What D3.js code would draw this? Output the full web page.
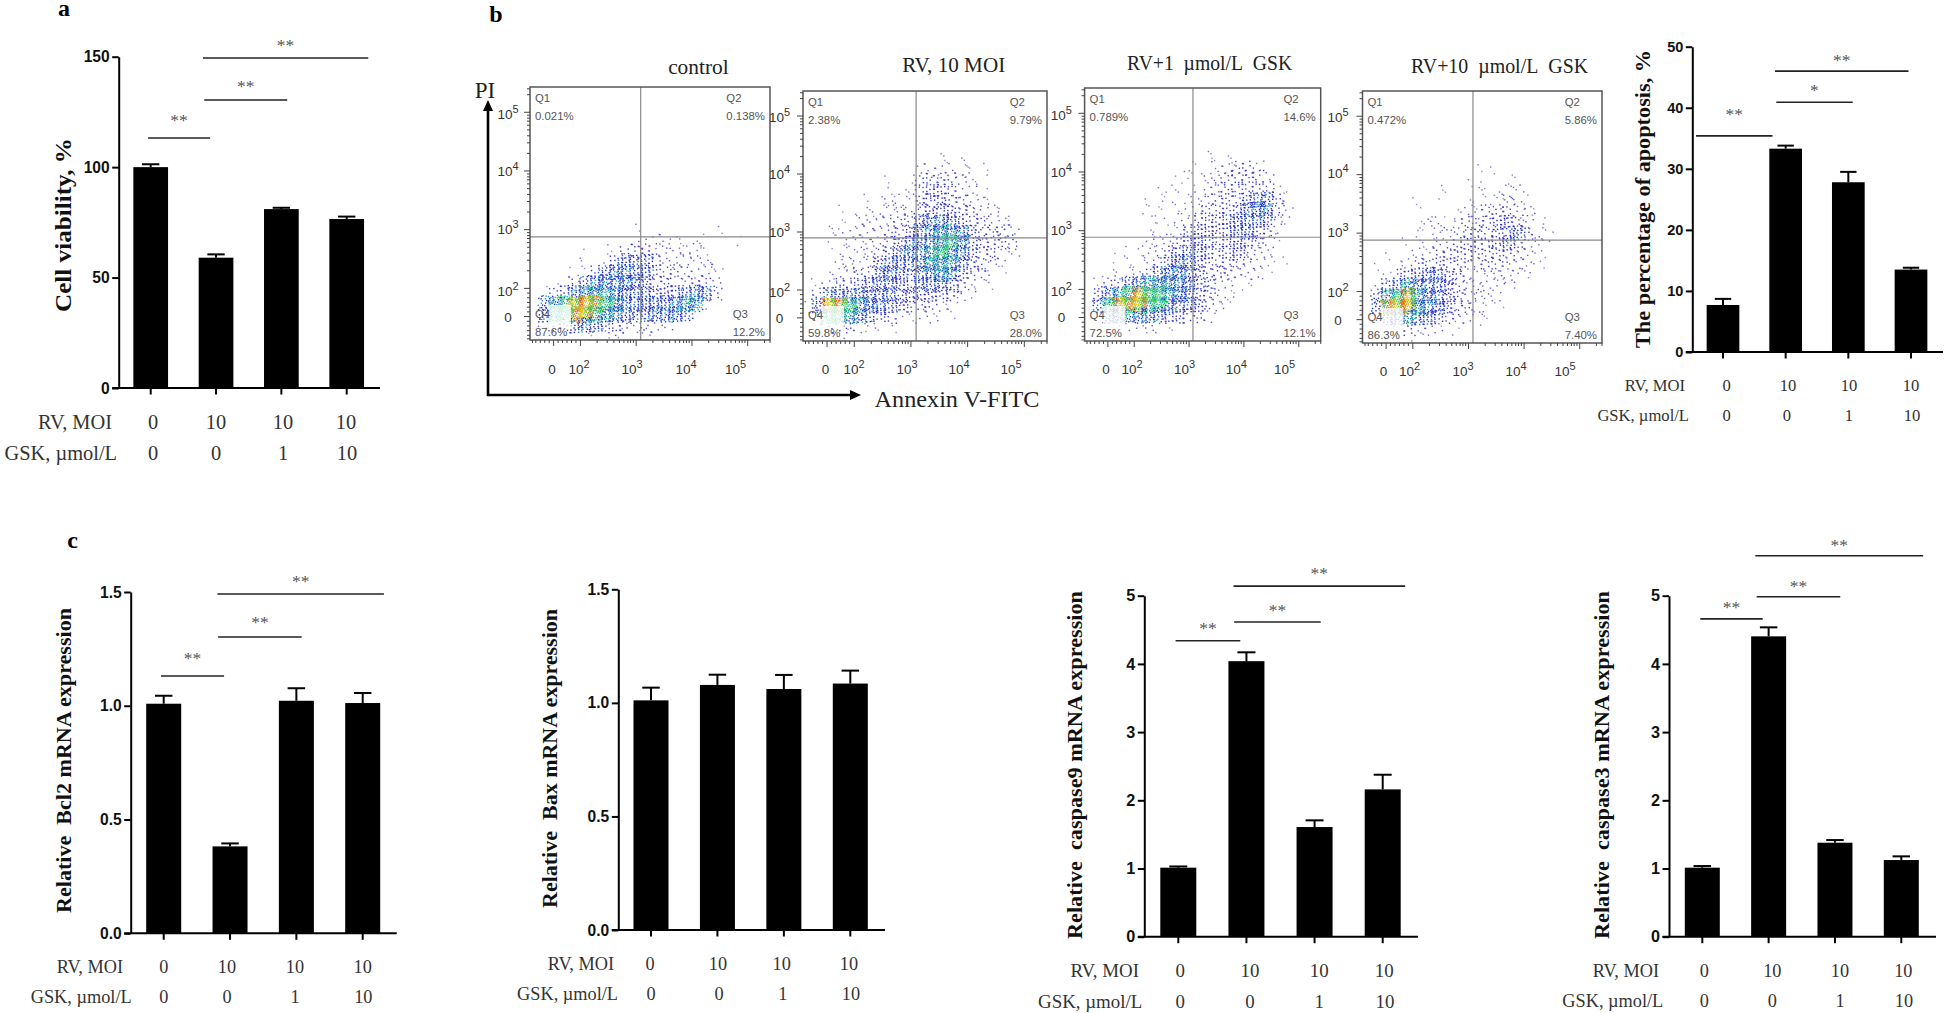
<!DOCTYPE html>
<html lang="en">
    <head>
        <meta charset="UTF-8" />
        <title>RV apoptosis figure</title>
        <script src="https://cdn.jsdelivr.net/npm/d3@7"></script>
        <style>
            body {
                margin: 0;
                background: #fff;
            }
            svg {
                display: block;
            }
        </style>
    </head>
    <body>
        <div id="container"></div>
        <script>
            // condition table under every bar chart
            const rvMoi = ['0', '10', '10', '10']
            const gskDose = ['0', '0', '1', '10']

            // bar heights and the top of each error bar
            const viabilityValues = [100, 59, 81, 76.5]
            const viabilityTops = [101.3, 60.5, 81.6, 77.6]
            const apoptosisValues = [7.7, 33.3, 27.8, 13.5]
            const apoptosisTops = [8.7, 33.8, 29.5, 13.8]
            const bcl2Values = [1.009, 0.382, 1.022, 1.012]
            const bcl2Tops = [1.044, 0.395, 1.077, 1.056]
            const baxValues = [1.011, 1.079, 1.061, 1.085]
            const baxTops = [1.067, 1.124, 1.123, 1.142]
            const casp9Values = [1.012, 4.04, 1.608, 2.16]
            const casp9Tops = [1.03, 4.17, 1.706, 2.375]
            const casp3Values = [1.012, 4.404, 1.378, 1.124]
            const casp3Tops = [1.036, 4.536, 1.417, 1.178]

            // significance bars: from bar, to bar, level on the y axis, label
            const viabilitySig = [[-0.04, 0.91, 113.2, '**'], [0.82, 2.09, 130.4, '**'], [0.8, 3.33, 149.4, '**']]
            const apoptosisSig = [[-0.43, 0.79, 35.4, '**'], [0.85, 2.07, 40.9, '*'], [0.83, 2.96, 46, '**']]
            const bcl2Sig = [[-0.04, 0.91, 1.131, '**'], [0.82, 2.08, 1.302, '**'], [0.81, 3.32, 1.491, '**']]
            const casp9Sig = [[-0.04, 0.91, 4.34, '**'], [0.82, 2.09, 4.615, '**'], [0.81, 3.33, 5.14, '**']]
            const casp3Sig = [[-0.03, 0.91, 4.66, '**'], [0.82, 2.08, 4.985, '**'], [0.8, 3.33, 5.586, '**']]

            // flow cytometry: dot density per grid cell, 0 empty to 9 hottest, 24 rows from the top.
            // estimated by eye, short rows are empty on the right
            const controlDensity = [
                '', '', '', '', '', '', '', '', '', '', '', '', '',
                '00000000001000000001',
                '000000000002221111001',
                '000001010333222221',
                '0000100145553222221',
                '0000113566553332222',
                '0001356666543322332',
                '0134677765554445663',
                '067899987655556771',
                '0588998765556665',
                '02335654332322',
                '000001112112',
            ]
            const rv10Density = [
                '', '', '', '', '', '',
                '00000000000001111',
                '000000000002222111',
                '000000001003333221',
                '000000001113433221',
                '0000001122233433221',
                '00010112222344433221',
                '000112222335565433221',
                '001122223345677643332',
                '0011122234566787433 33',
                '000122233566787643322',
                '00022224555677753321',
                '00122335653567643211',
                '0123344554455543211',
                '13556555544444321',
                '259987655433321',
                '038876443212211',
                '002332211',
                '000011',
            ]
            const rv1Density = [
                '', '', '', '', '', '',
                '0000000000001111',
                '000000000011022332',
                '0000000010112233332',
                '00000001110122333331',
                '000000110012233345531',
                '000001011122333456632',
                '000000101223344555421',
                '00000011123444455432',
                '00000022234443444321',
                '0001012234544344322',
                '000111234654333322101',
                '0011223566543332221',
                '013356777654322111',
                '0467898876543211',
                '058999886554321',
                '0266766544332',
                '0001212211',
                '',
            ]
            const rv10GskDensity = [
                '', '', '', '', '', '', '',
                '00000000000101',
                '0000000000101011',
                '0000000110011122',
                '00000100001112221',
                '000000100122333221',
                '000001221233344321',
                '0000011222333345322',
                '0000111223333453 22',
                '001012233333333221',
                '010123333322332221',
                '00134455432222221',
                '024576554322221',
                '04789765432221',
                '059997654332 11',
                '0256755432211',
                '0002322211',
                '000001',
            ].map((row) => row.replace(/ /g, ''))

            const flowDecades = [2, 3, 4, 5]
            const flowZeroTick = [1.52]
            // remaining minor ticks, in decades on the biexponential axis
            const flowMinorTicks = [
                1.14, 1.2, 1.28, 1.36, 1.44, 1.6, 1.68, 1.76, 1.84, 1.92,
                2.3, 2.48, 2.6, 2.7, 2.78, 2.85, 2.9, 2.95,
                3.3, 3.48, 3.6, 3.7, 3.78, 3.85, 3.9, 3.95,
                4.3, 4.48, 4.6, 4.7, 4.78, 4.85, 4.9, 4.95,
                5.3, 5.4,
            ]

            const width = 1946
            const height = 1013
            const serif = '"Liberation Serif", "Times New Roman", serif'
            const sans = '"Liberation Sans", Arial, sans-serif'

            const svg = d3.select('#container').append('svg').attr('width', width).attr('height', height)

            const barPanels = [
                {
                    values: viabilityValues, tops: viabilityTops, sig: viabilitySig, starGap: [20, 16, 15],
                    ticks: [0, 50, 100, 150], domainMax: 150, format: d3.format('d'),
                    axisX: 118.7, yTop: 56.7, y0: 388, xEnd: 380, c0: 150.7, c3: 346.7, barWidth: 34.7, tickFont: 15.6,
                    title: 'Cell viability, %', titleX: 63, titleY: 225, titleLen: 174, titleFont: 24,
                    tableFont: 20.4, rvRight: 112, gskRight: 117, rvY: 422, gskY: 453,
                    rvX: [153, 216, 283, 346], gskX: [153, 216, 283, 347],
                },
                {
                    values: apoptosisValues, tops: apoptosisTops, sig: apoptosisSig, starGap: [24, 14, 13],
                    ticks: [0, 10, 20, 30, 40, 50], domainMax: 50, format: d3.format('d'),
                    axisX: 1692.3, yTop: 46.7, y0: 352, xEnd: 1943, c0: 1723, c3: 1911, barWidth: 32.7, tickFont: 14.5,
                    title: 'The percentage of apoptosis, %', titleX: 1643, titleY: 199, titleLen: 298, titleFont: 21,
                    tableFont: 16.6, rvRight: 1685, gskRight: 1689, rvY: 385.7, gskY: 416,
                    rvX: [1726.7, 1788, 1849, 1911], gskX: [1726.7, 1787, 1849, 1912],
                },
                {
                    values: bcl2Values, tops: bcl2Tops, sig: bcl2Sig, starGap: [20, 17, 15],
                    ticks: [0, 0.5, 1, 1.5], domainMax: 1.5, format: d3.format('.1f'),
                    axisX: 130.7, yTop: 592, y0: 933.3, xEnd: 396.7, c0: 163.7, c3: 362.7, barWidth: 35, tickFont: 15.6,
                    title: 'Relative\u00a0\u00a0Bcl2 mRNA expression', titleX: 65, titleY: 760.5, titleLen: 305, titleFont: 20,
                    tableFont: 18.3, rvRight: 123, gskRight: 131.7, rvY: 967, gskY: 997,
                    rvX: [163.7, 227, 295, 362.7], gskX: [163.7, 227, 295, 363.3],
                },
                {
                    values: baxValues, tops: baxTops, sig: [], starGap: [],
                    ticks: [0, 0.5, 1, 1.5], domainMax: 1.5, format: d3.format('.1f'),
                    axisX: 618.3, yTop: 589.3, y0: 930, xEnd: 885, c0: 651, c3: 850.3, barWidth: 35, tickFont: 15.6,
                    title: 'Relative\u00a0\u00a0Bax mRNA expression', titleX: 550.7, titleY: 758.5, titleLen: 299, titleFont: 20,
                    tableFont: 18.3, rvRight: 614, gskRight: 618, rvY: 964, gskY: 994,
                    rvX: [650, 718, 781.7, 849], gskX: [651, 719, 782.7, 851],
                },
                {
                    values: casp9Values, tops: casp9Tops, sig: casp9Sig, starGap: [14.7, 13.7, 15],
                    ticks: [0, 1, 2, 3, 4, 5], domainMax: 5, format: d3.format('d'),
                    axisX: 1144.3, yTop: 595.7, y0: 936.7, xEnd: 1418, c0: 1178.3, c3: 1382.7, barWidth: 36, tickFont: 16.2,
                    title: 'Relative\u00a0\u00a0caspase9 mRNA expression', titleX: 1076, titleY: 765, titleLen: 348, titleFont: 20,
                    tableFont: 18.9, rvRight: 1139, gskRight: 1142.3, rvY: 970.7, gskY: 1001.7,
                    rvX: [1180.3, 1250, 1319.3, 1384.3], gskX: [1180.3, 1250, 1319.3, 1385],
                },
                {
                    values: casp3Values, tops: casp3Tops, sig: casp3Sig, starGap: [13.7, 12.7, 13.4],
                    ticks: [0, 1, 2, 3, 4, 5], domainMax: 5, format: d3.format('d'),
                    axisX: 1669, yTop: 595.7, y0: 936.7, xEnd: 1936, c0: 1702.3, c3: 1901.3, barWidth: 35, tickFont: 16.2,
                    title: 'Relative\u00a0\u00a0caspase3 mRNA expression', titleX: 1603, titleY: 765, titleLen: 348, titleFont: 20,
                    tableFont: 18.3, rvRight: 1659, gskRight: 1663.3, rvY: 971, gskY: 1000.7,
                    rvX: [1704.3, 1772.3, 1840, 1903.3], gskX: [1704.3, 1772.3, 1840, 1904],
                },
            ]

            const flowPanels = [
                {
                    density: controlDensity, title: 'control', titleX: 698.4, titleY: 74, titleLen: 60.5,
                    q: ['0.021%', '0.138%', '12.2%', '87.6%'],
                    x0: 530, x1: 770, y0: 87, y1: 340, gateX: 3.09, gateY: 2.87,
                    xLabels: [579, 632, 686, 735.5], xZero: 552, xLabelY: 374, yLabels: [292, 230, 172, 115], yZero: 318, yLabelX: 508,
                },
                {
                    density: rv10Density.map((row) => row.replace(/ /g, '')), title: 'RV, 10 MOI', titleX: 953.7, titleY: 72, titleLen: 103,
                    q: ['2.38%', '9.79%', '28.0%', '59.8%'],
                    x0: 803, x1: 1047, y0: 91, y1: 341, gateX: 3.1, gateY: 2.89,
                    xLabels: [854, 907, 959, 1011], xZero: 825.5, xLabelY: 374, yLabels: [293, 233, 175, 118], yZero: 319, yLabelX: 779.6,
                },
                {
                    density: rv1Density, title: 'RV+1\u00a0\u00a0\u00b5mol/L\u00a0\u00a0GSK', titleX: 1209.6, titleY: 70, titleLen: 165,
                    q: ['0.789%', '14.6%', '12.1%', '72.5%'],
                    x0: 1084.6, x1: 1320.7, y0: 88, y1: 341, gateX: 3.08, gateY: 2.88,
                    xLabels: [1132, 1184.6, 1236.4, 1284.6], xZero: 1106, xLabelY: 374, yLabels: [292, 231, 173, 116], yZero: 318, yLabelX: 1061.4,
                },
                {
                    density: rv10GskDensity, title: 'RV+10\u00a0\u00a0\u00b5mol/L\u00a0\u00a0GSK', titleX: 1499.6, titleY: 73, titleLen: 177,
                    q: ['0.472%', '5.86%', '7.40%', '86.3%'],
                    x0: 1362.5, x1: 1602, y0: 91, y1: 343, gateX: 3.09, gateY: 2.87,
                    xLabels: [1409.6, 1463, 1516, 1565], xZero: 1383.6, xLabelY: 376, yLabels: [293, 233, 174, 118], yZero: 321, yLabelX: 1338,
                },
            ]

            const densityCount = [0, 2, 4, 8, 14, 21, 28, 36, 46, 60]
            const densityColors = [
                ['none'],
                ['#8f88d8', '#7a72d2'],
                ['#6f68d2', '#5a54cc'],
                ['#4b48cc', '#3a38c8'],
                ['#2b2cc4', '#3a38c8'],
                ['#1c2ac4', '#1c2ac4', '#2b6ad0'],
                ['#1c3cc8', '#22a0c8', '#1c2ac4'],
                ['#1e90c0', '#1cc090', '#1c48c8'],
                ['#20c850', '#40d080', '#1eb0a0'],
                ['#e8b020', '#e86018', '#70c830', '#d8d020'],
            ]

            const frac = (v) => v - Math.floor(v)

            const drawBarPanel = (p) => {
                const g = svg.append('g')
                const step = (p.c3 - p.c0) / 3
                const x = d3
                    .scaleBand()
                    .domain(d3.range(p.values.length))
                    .range([p.c0 - step / 2, p.c3 + step / 2])
                    .paddingInner(1 - p.barWidth / step)
                    .paddingOuter((1 - p.barWidth / step) / 2)
                const barPos = d3.scaleLinear().domain([0, 3]).range([p.c0, p.c3])
                const y = d3.scaleLinear().domain([0, p.domainMax]).range([p.y0, p.yTop])

                g.selectAll('.bar')
                    .data(p.values)
                    .enter()
                    .append('rect')
                    .attr('class', 'bar')
                    .attr('x', (d, i) => x(i))
                    .attr('y', (d) => y(d))
                    .attr('width', x.bandwidth())
                    .attr('height', (d) => p.y0 - y(d))
                    .attr('fill', '#000')

                const errs = g.selectAll('.err').data(p.tops).enter().append('g').attr('class', 'err').attr('stroke', '#000').attr('stroke-width', 2)
                errs.append('line')
                    .attr('x1', (d, i) => barPos(i))
                    .attr('x2', (d, i) => barPos(i))
                    .attr('y1', (d, i) => y(p.values[i]))
                    .attr('y2', (d) => y(d))
                errs.append('line')
                    .attr('x1', (d, i) => barPos(i) - p.barWidth / 4)
                    .attr('x2', (d, i) => barPos(i) + p.barWidth / 4)
                    .attr('y1', (d) => y(d))
                    .attr('y2', (d) => y(d))

                const yAxis = g
                    .append('g')
                    .attr('transform', `translate(${p.axisX},0)`)
                    .call(d3.axisLeft(y).tickValues(p.ticks).tickFormat(p.format).tickSize(6.5).tickSizeOuter(0).tickPadding(2.5))
                yAxis.selectAll('path, line').attr('stroke', '#000').attr('stroke-width', 2)
                yAxis.selectAll('text').attr('fill', '#111').style('font', `bold ${p.tickFont}px ${sans}`)

                const xAxis = g
                    .append('g')
                    .attr('transform', `translate(0,${p.y0})`)
                    .call(d3.axisBottom(x).tickSize(6.5).tickSizeOuter(0).tickFormat(''))
                xAxis.select('.domain').remove()
                xAxis.selectAll('line').attr('stroke', '#000').attr('stroke-width', 2)
                g.append('line')
                    .attr('x1', p.axisX - 6.5)
                    .attr('x2', p.xEnd)
                    .attr('y1', p.y0)
                    .attr('y2', p.y0)
                    .attr('stroke', '#000')
                    .attr('stroke-width', 2)

                g.append('text')
                    .attr('transform', `translate(${p.titleX},${p.titleY}) rotate(-90)`)
                    .attr('text-anchor', 'middle')
                    .attr('dy', '0.32em')
                    .attr('textLength', p.titleLen)
                    .attr('lengthAdjust', 'spacingAndGlyphs')
                    .style('font', `bold ${p.titleFont}px ${serif}`)
                    .attr('fill', '#111')
                    .text(p.title)

                p.sig.forEach((s, i) => {
                    g.append('line')
                        .attr('x1', barPos(s[0]))
                        .attr('x2', barPos(s[1]))
                        .attr('y1', y(s[2]))
                        .attr('y2', y(s[2]))
                        .attr('stroke', '#222')
                        .attr('stroke-width', 1.6)
                    g.append('text')
                        .attr('x', (barPos(s[0]) + barPos(s[1])) / 2)
                        .attr('y', y(s[2]) - p.starGap[i] + 8.2)
                        .attr('text-anchor', 'middle')
                        .attr('fill', '#555')
                        .style('font', `17.5px ${serif}`)
                        .text(s[3])
                })

                const tableRow = (name, right, rowY, labels, xs) => {
                    g.append('text')
                        .attr('x', right)
                        .attr('y', rowY)
                        .attr('dy', '0.32em')
                        .attr('text-anchor', 'end')
                        .attr('fill', '#333')
                        .style('font', `${p.tableFont}px ${serif}`)
                        .text(name)
                    g.selectAll(null)
                        .data(labels)
                        .enter()
                        .append('text')
                        .attr('x', (d, i) => xs[i])
                        .attr('y', rowY)
                        .attr('dy', '0.32em')
                        .attr('text-anchor', 'middle')
                        .attr('fill', '#333')
                        .style('font', `${p.tableFont}px ${serif}`)
                        .text((d) => d)
                }
                tableRow('RV, MOI', p.rvRight, p.rvY, rvMoi, p.rvX)
                tableRow('GSK, \u00b5mol/L', p.gskRight, p.gskY, gskDose, p.gskX)
            }

            const drawFlowPanel = (p) => {
                const g = svg.append('g')
                const w = p.x1 - p.x0
                const h = p.y1 - p.y0
                const x = d3.scaleLinear().domain([2, 5]).range([p.x0 + 0.208 * w, p.x0 + 0.905 * w])
                const y = d3.scaleLinear().domain([2, 5]).range([p.y0 + 0.794 * h, p.y0 + 0.098 * h])
                const cellX = d3.scaleBand().domain(d3.range(24)).range([p.x0, p.x1])
                const cellY = d3.scaleBand().domain(d3.range(24)).range([p.y0, p.y1])

                // each density cell takes the next run of a fixed low discrepancy sequence
                const dots = []
                let n = 0
                p.density.forEach((row, r) => {
                    row.split('').forEach((ch, c) => {
                        const level = +ch
                        d3.range(densityCount[level]).forEach((i) => {
                            n += 1
                            const u = frac(0.7548777 * n) * 1.5 - 0.25
                            const v = frac(0.5698403 * n) * 1.5 - 0.25
                            const colors = densityColors[level]
                            dots.push({
                                px: cellX(c) + u * cellX.bandwidth(),
                                py: cellY(r) + v * cellY.bandwidth(),
                                color: colors[i % colors.length],
                            })
                        })
                    })
                })
                g.selectAll('.dot')
                    .data(dots.filter((d) => d.px > p.x0 + 1 && d.px < p.x1 - 1 && d.py < p.y1 - 1))
                    .enter()
                    .append('rect')
                    .attr('class', 'dot')
                    .attr('x', (d) => d.px)
                    .attr('y', (d) => d.py)
                    .attr('width', 1.4)
                    .attr('height', 1.4)
                    .attr('fill', (d) => d.color)

                // pale box the Q4 label sits on
                g.append('rect')
                    .attr('x', p.x0 + 18)
                    .attr('y', p.y1 - 35)
                    .attr('width', 23)
                    .attr('height', 22)
                    .attr('fill', '#fff')
                    .attr('opacity', 0.78)

                g.append('line').attr('x1', x(p.gateX)).attr('x2', x(p.gateX)).attr('y1', p.y0).attr('y2', p.y1).attr('stroke', '#8a8a8a').attr('stroke-width', 1.2)
                g.append('line').attr('x1', p.x0).attr('x2', p.x1).attr('y1', y(p.gateY)).attr('y2', y(p.gateY)).attr('stroke', '#8a8a8a').attr('stroke-width', 1.2)

                g.append('rect')
                    .attr('x', p.x0)
                    .attr('y', p.y0)
                    .attr('width', w)
                    .attr('height', h)
                    .attr('fill', 'none')
                    .attr('stroke', '#555')
                    .attr('stroke-width', 1.5)

                const styleTicks = (sel) => {
                    sel.select('.domain').remove()
                    sel.selectAll('line').attr('stroke', '#444').attr('stroke-width', 1)
                }
                const yLeft = g.append('g').attr('transform', `translate(${p.x0},0)`)
                yLeft.append('g').call(d3.axisLeft(y).tickValues(flowMinorTicks).tickSize(3).tickFormat('')).call(styleTicks)
                yLeft.append('g').call(d3.axisLeft(y).tickValues(flowDecades.concat(flowZeroTick)).tickSize(6).tickFormat('')).call(styleTicks)
                const xBottom = g.append('g').attr('transform', `translate(0,${p.y1})`)
                xBottom.append('g').call(d3.axisBottom(x).tickValues(flowMinorTicks.filter((d) => x(d) < p.x1)).tickSize(3).tickFormat('')).call(styleTicks)
                xBottom.append('g').call(d3.axisBottom(x).tickValues(flowDecades.concat(flowZeroTick)).tickSize(6).tickFormat('')).call(styleTicks)

                const decadeLabel = (px, py, decade) => {
                    const t = g.append('text').attr('x', px).attr('y', py).attr('text-anchor', 'middle').attr('fill', '#333').style('font', `13.5px ${sans}`).text('10')
                    t.append('tspan').attr('dy', -6).style('font-size', '11px').text(decade)
                }
                const zeroLabel = (px, py) => {
                    g.append('text').attr('x', px).attr('y', py).attr('text-anchor', 'middle').attr('fill', '#333').style('font', `13.5px ${sans}`).text('0')
                }
                flowDecades.forEach((d, i) => {
                    decadeLabel(p.xLabels[i], p.xLabelY, d)
                    decadeLabel(p.yLabelX, p.yLabels[i] + 4, d)
                })
                zeroLabel(p.xZero, p.xLabelY)
                zeroLabel(p.yLabelX, p.yZero + 4)

                // quadrant labels, the name lines up with the left edge of its value
                const qText = (str, px, py, anchor) =>
                    g.append('text').attr('x', px).attr('y', py).attr('text-anchor', anchor).attr('fill', '#555').style('font', `11.4px ${sans}`).text(str)
                const qLeft = p.x0 + 5
                const qRight = p.x1 - 5
                const topName = p.y0 + 15
                const topValue = p.y0 + 33
                const botName = p.y1 - 22
                const botValue = p.y1 - 4
                qText('Q1', qLeft, topName, 'start')
                qText(p.q[0], qLeft, topValue, 'start')
                const q2 = qText(p.q[1], qRight, topValue, 'end')
                qText('Q2', qRight - q2.node().getComputedTextLength(), topName, 'start')
                const q3 = qText(p.q[2], qRight, botValue, 'end')
                qText('Q3', qRight - q3.node().getComputedTextLength(), botName, 'start')
                qText('Q4', qLeft, botName, 'start')
                qText(p.q[3], qLeft, botValue, 'start')

                g.append('text')
                    .attr('x', p.titleX)
                    .attr('y', p.titleY)
                    .attr('text-anchor', 'middle')
                    .attr('textLength', p.titleLen)
                    .attr('lengthAdjust', 'spacingAndGlyphs')
                    .attr('fill', '#222')
                    .style('font', `21px ${serif}`)
                    .text(p.title)
            }

            barPanels.forEach(drawBarPanel)
            flowPanels.forEach(drawFlowPanel)

            // PI / Annexin arrows
            const arrowX = 488
            const arrowY = 395
            svg.append('line').attr('x1', arrowX).attr('x2', arrowX).attr('y1', arrowY + 1).attr('y2', 108).attr('stroke', '#000').attr('stroke-width', 2.6)
            svg.append('line').attr('x1', arrowX - 1).attr('x2', 853).attr('y1', arrowY).attr('y2', arrowY).attr('stroke', '#000').attr('stroke-width', 2.6)
            svg.append('path').attr('d', `M${arrowX},100 l-5,11 h10 z`).attr('fill', '#000')
            svg.append('path').attr('d', `M861,${arrowY} l-11,-5 v10 z`).attr('fill', '#000')
            svg.append('text').attr('x', 485).attr('y', 98).attr('text-anchor', 'middle').attr('fill', '#222').style('font', `23px ${serif}`).text('PI')
            svg.append('text')
                .attr('x', 874.5)
                .attr('y', 407)
                .attr('textLength', 165)
                .attr('lengthAdjust', 'spacingAndGlyphs')
                .attr('fill', '#222')
                .style('font', `24px ${serif}`)
                .text('Annexin V-FITC')

            const panelLetters = [['a', 64, 16], ['b', 496, 21.7], ['c', 72.7, 548]]
            svg.selectAll('.letter')
                .data(panelLetters)
                .enter()
                .append('text')
                .attr('class', 'letter')
                .attr('x', (d) => d[1])
                .attr('y', (d) => d[2])
                .attr('text-anchor', 'middle')
                .attr('fill', '#000')
                .style('font', `bold 24px ${serif}`)
                .text((d) => d[0])
        </script>
    </body>
</html>
